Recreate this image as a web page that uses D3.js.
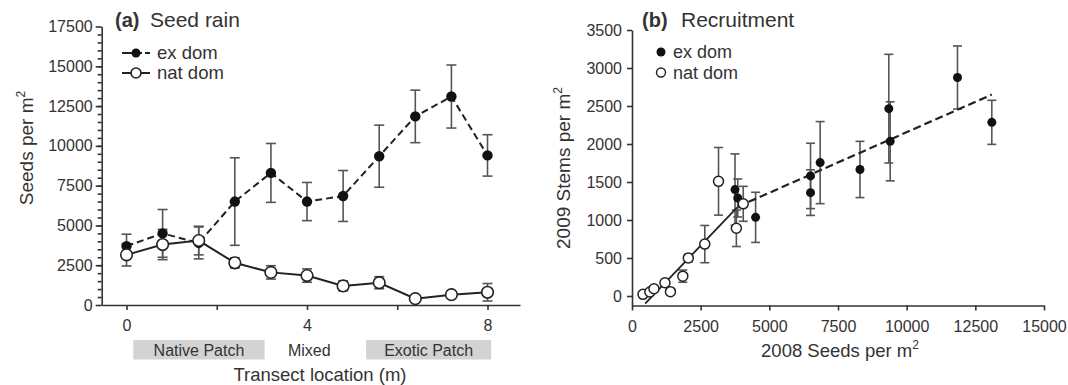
<!DOCTYPE html>
<html>
<head>
<meta charset="utf-8">
<script src="https://cdn.jsdelivr.net/npm/d3@7"></script>
<style>
  body { margin: 0; background: #fff; }
  svg { display: block; font-family: Arial, "Liberation Sans", sans-serif; }
  .axis path, .axis line { stroke: #333; stroke-width: 1.6; }
  .axis text { fill: #333; font-size: 16px; }
  .lbl { fill: #333; }
</style>
</head>
<body>
<svg id="chart" width="1068" height="385"></svg>
<script>
// (a) seed rain along the transect
const transectX      = [0, 0.8, 1.6, 2.4, 3.2, 4.0, 4.8, 5.6, 6.4, 7.2, 8.0];
const exDomSeeds     = [3700, 4500, 3900, 6500, 8300, 6500, 6850, 9350, 11850, 13100, 9400];
const exDomSeedsErr  = [750, 1500, 1000, 2750, 1850, 1200, 1600, 1950, 1650, 1980, 1300];
const natDomSeeds    = [3150, 3800, 4050, 2650, 2050, 1850, 1200, 1400, 400, 650, 800];
const natDomSeedsErr = [700, 950, 900, 320, 420, 420, 310, 380, 150, 150, 550];
const patchNames = ['Native Patch', 'Mixed', 'Exotic Patch'];
const patchFrom  = [0.15, null, 5.31];
const patchTo    = [3.06, null, 8.08];
const patchMid   = [1.6, 4.05, 6.7];

// (b) recruitment vs seed rain
const exRecX    = [3750, 3850, 4500, 6500, 6500, 6850, 8300, 9350, 9400, 11850, 13100];
const exRecY    = [1400, 1290, 1035, 1580, 1360, 1755, 1665, 2465, 2035, 2875, 2285];
const exRecErr  = [470, 250, 330, 430, 300, 540, 370, 715, 520, 415, 290];
const natRecX   = [400, 650, 800, 1200, 1400, 1850, 2050, 2650, 3150, 3800, 4050];
const natRecY   = [22, 52, 96, 174, 57, 261, 500, 683, 1509, 891, 1213];
const natRecErr = [0, 0, 0, 0, 0, 80, 50, 245, 445, 240, 230];
const natFitX = [480, 3830],  natFitY = [-100, 1165];
const exFitX  = [3850, 13100], exFitY = [1175, 2650];

const svg = d3.select('#chart');
const INK = '#222';
const ERR = '#555';
const plain = d3.format('d');

// ---------- panel (a) ----------
const xA = d3.scaleLinear().domain([-0.55, 8.72]).range([101.7, 520]);
const yA = d3.scaleLinear().domain([0, 17500]).range([305, 26.5]);
const gA = svg.append('g');

gA.append('g').attr('class', 'axis')
  .attr('transform', `translate(${xA.range()[0]},0)`)
  .call(d3.axisLeft(yA).tickValues(d3.range(500, 17500, 500)).tickSize(4).tickSizeOuter(0).tickFormat(''))
  .call(g => g.select('.domain').remove());
gA.append('g').attr('class', 'axis')
  .attr('transform', `translate(${xA.range()[0]},0)`)
  .call(d3.axisLeft(yA).tickValues(d3.range(0, 17501, 2500)).tickSize(6).tickPadding(3)
    .tickSizeOuter(0).tickFormat(plain));
gA.append('g').attr('class', 'axis')
  .attr('transform', `translate(0,${yA(0)})`)
  .call(d3.axisBottom(xA).tickValues([0, 2, 4, 6, 8]).tickSize(5).tickPadding(10).tickSizeOuter(0)
    .tickFormat(d => d % 4 === 0 ? d : ''));

const seedRows = transectX.map((x, i) => ({
  x, ex: exDomSeeds[i], exE: exDomSeedsErr[i], nat: natDomSeeds[i], natE: natDomSeedsErr[i]
}));

function errBars(g, rows, xs, ys, xf, yf, ef, cap) {
  const b = g.append('g').attr('stroke', ERR).attr('stroke-width', 1.6);
  rows.forEach(d => {
    const x = xs(xf(d)), y1 = ys(yf(d) + ef(d)), y0 = ys(yf(d) - ef(d));
    b.append('line').attr('x1', x).attr('x2', x).attr('y1', y1).attr('y2', y0);
    b.append('line').attr('x1', x - cap).attr('x2', x + cap).attr('y1', y1).attr('y2', y1);
    b.append('line').attr('x1', x - cap).attr('x2', x + cap).attr('y1', y0).attr('y2', y0);
  });
}
errBars(gA, seedRows, xA, yA, d => d.x, d => d.ex, d => d.exE, 5);
errBars(gA, seedRows, xA, yA, d => d.x, d => d.nat, d => d.natE, 5);

gA.append('path').datum(seedRows)
  .attr('fill', 'none').attr('stroke', INK).attr('stroke-width', 2).attr('stroke-dasharray', '7,4')
  .attr('d', d3.line().x(d => xA(d.x)).y(d => yA(d.ex)));
gA.append('path').datum(seedRows)
  .attr('fill', 'none').attr('stroke', INK).attr('stroke-width', 2)
  .attr('d', d3.line().x(d => xA(d.x)).y(d => yA(d.nat)));

gA.append('g').selectAll('circle').data(seedRows).join('circle')
  .attr('cx', d => xA(d.x)).attr('cy', d => yA(d.ex)).attr('r', 5.2).attr('fill', '#111');
gA.append('g').selectAll('circle').data(seedRows).join('circle')
  .attr('cx', d => xA(d.x)).attr('cy', d => yA(d.nat)).attr('r', 5.8)
  .attr('fill', '#fff').attr('stroke', INK).attr('stroke-width', 1.6);

// patch strip under the x axis
patchNames.forEach((name, i) => {
  if (patchFrom[i] !== null) {
    gA.append('rect')
      .attr('x', xA(patchFrom[i])).attr('width', xA(patchTo[i]) - xA(patchFrom[i]))
      .attr('y', 340).attr('height', 19.5).attr('fill', '#d3d3d3');
  }
  const mid = patchFrom[i] !== null ? (patchFrom[i] + patchTo[i]) / 2 : patchMid[i];
  gA.append('text').attr('class', 'lbl')
    .attr('x', xA(mid)).attr('y', 355.5).attr('text-anchor', 'middle')
    .style('font-size', '16px').text(name);
});

gA.append('text').attr('class', 'lbl')
  .attr('x', 320).attr('y', 381).attr('text-anchor', 'middle')
  .style('font-size', '18.5px').text('Transect location (m)');

const yTitleA = gA.append('text').attr('class', 'lbl')
  .attr('transform', 'translate(33,148) rotate(-90)').attr('text-anchor', 'middle')
  .style('font-size', '19px');
yTitleA.append('tspan').text('Seeds per m');
yTitleA.append('tspan').attr('dy', -8).style('font-size', '12px').text('2');

gA.append('text').attr('class', 'lbl').attr('x', 115).attr('y', 27)
  .style('font-size', '20px').style('font-weight', 'bold').text('(a)');
gA.append('text').attr('class', 'lbl').attr('x', 150).attr('y', 27)
  .style('font-size', '21px').text('Seed rain');

// legend (a)
const legA = gA.append('g');
legA.append('line').attr('x1', 122).attr('x2', 150).attr('y1', 53).attr('y2', 53)
  .attr('stroke', INK).attr('stroke-width', 2).attr('stroke-dasharray', '14,3,3,3');
legA.append('circle').attr('cx', 136).attr('cy', 53).attr('r', 4.5).attr('fill', '#111');
legA.append('text').attr('class', 'lbl').attr('x', 157).attr('y', 59).style('font-size', '18.5px').text('ex dom');
legA.append('line').attr('x1', 122).attr('x2', 150).attr('y1', 73).attr('y2', 73)
  .attr('stroke', INK).attr('stroke-width', 2);
legA.append('circle').attr('cx', 136).attr('cy', 73).attr('r', 5)
  .attr('fill', '#fff').attr('stroke', INK).attr('stroke-width', 1.6);
legA.append('text').attr('class', 'lbl').attr('x', 157).attr('y', 79).style('font-size', '18.5px').text('nat dom');

// ---------- panel (b) ----------
const xB = d3.scaleLinear().domain([0, 15000]).range([632, 1044]);
const yB = d3.scaleLinear().domain([-125, 3500]).range([305.5, 30]);
const gB = svg.append('g');

gB.append('g').attr('class', 'axis')
  .attr('transform', `translate(${xB(0)},0)`)
  .call(d3.axisLeft(yB).tickValues(d3.range(0, 3501, 500)).tickSize(5).tickPadding(5)
    .tickSizeOuter(0).tickFormat(plain));
gB.append('g').attr('class', 'axis')
  .attr('transform', `translate(0,${yB.range()[0]})`)
  .call(d3.axisBottom(xB).tickValues(d3.range(0, 15001, 2500)).tickSize(5).tickPadding(10)
    .tickSizeOuter(0).tickFormat(plain));

const exRows = exRecX.map((x, i) => ({ x, y: exRecY[i], e: exRecErr[i] }));
const natRows = natRecX.map((x, i) => ({ x, y: natRecY[i], e: natRecErr[i] }));

errBars(gB, exRows.filter(d => d.e > 0), xB, yB, d => d.x, d => d.y, d => d.e, 4.5);
errBars(gB, natRows.filter(d => d.e > 0), xB, yB, d => d.x, d => d.y, d => d.e, 4.5);

const fitLine = d3.line().x(d => xB(d[0])).y(d => yB(d[1]));
gB.append('path').datum(natFitX.map((x, i) => [x, natFitY[i]]))
  .attr('fill', 'none').attr('stroke', INK).attr('stroke-width', 1.8).attr('d', fitLine);
gB.append('path').datum(exFitX.map((x, i) => [x, exFitY[i]]))
  .attr('fill', 'none').attr('stroke', INK).attr('stroke-width', 2.2).attr('stroke-dasharray', '8,4')
  .attr('d', fitLine);

gB.append('g').selectAll('circle').data(exRows).join('circle')
  .attr('cx', d => xB(d.x)).attr('cy', d => yB(d.y)).attr('r', 4.5).attr('fill', '#111');
gB.append('g').selectAll('circle').data(natRows).join('circle')
  .attr('cx', d => xB(d.x)).attr('cy', d => yB(d.y)).attr('r', 5)
  .attr('fill', '#fff').attr('stroke', INK).attr('stroke-width', 1.5);

const xTitleB = gB.append('text').attr('class', 'lbl')
  .attr('x', 840).attr('y', 357).attr('text-anchor', 'middle').style('font-size', '18.5px');
xTitleB.append('tspan').text('2008 Seeds per m');
xTitleB.append('tspan').attr('dy', -8).style('font-size', '12px').text('2');

const yTitleB = gB.append('text').attr('class', 'lbl')
  .attr('transform', 'translate(570,168) rotate(-90)').attr('text-anchor', 'middle')
  .style('font-size', '19px');
yTitleB.append('tspan').text('2009 Stems per m');
yTitleB.append('tspan').attr('dy', -8).style('font-size', '12px').text('2');

gB.append('text').attr('class', 'lbl').attr('x', 642).attr('y', 27)
  .style('font-size', '20px').style('font-weight', 'bold').text('(b)');
gB.append('text').attr('class', 'lbl').attr('x', 681).attr('y', 27)
  .style('font-size', '21px').text('Recruitment');

const legB = gB.append('g');
legB.append('circle').attr('cx', 661).attr('cy', 52).attr('r', 4.5).attr('fill', '#111');
legB.append('text').attr('class', 'lbl').attr('x', 673).attr('y', 58).style('font-size', '18px').text('ex dom');
legB.append('circle').attr('cx', 661).attr('cy', 72.5).attr('r', 4.5)
  .attr('fill', '#fff').attr('stroke', INK).attr('stroke-width', 1.4);
legB.append('text').attr('class', 'lbl').attr('x', 673).attr('y', 78.5).style('font-size', '18px').text('nat dom');
</script>
</body>
</html>
